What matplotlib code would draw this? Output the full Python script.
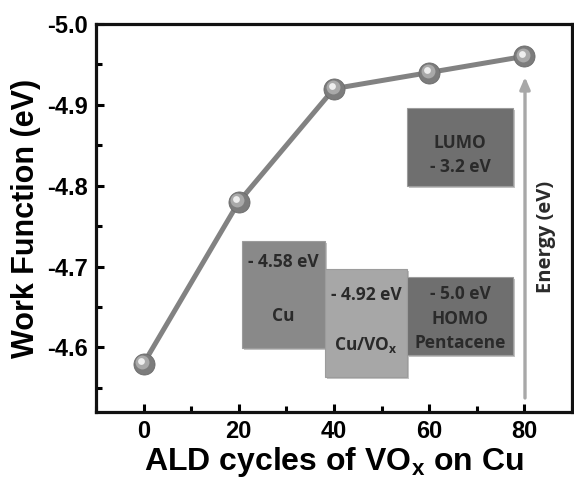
"""Work function of Cu vs. number of VOx ALD cycles, with energy-level inset."""

import matplotlib

matplotlib.use("Agg")
import matplotlib.pyplot as plt
from matplotlib.patches import Rectangle
from matplotlib.ticker import MultipleLocator
from matplotlib import transforms

# ---- data ----
ald_cycles = [0, 20, 40, 60, 80]
work_function = [-4.58, -4.78, -4.92, -4.94, -4.96]

x_ticks = [0, 20, 40, 60, 80]
y_ticks = [-4.6, -4.7, -4.8, -4.9, -5.0]

# inset energy-level boxes: text lines per box
box_labels = {
    "cu": ["- 4.58 eV", "Cu"],
    "cuvox": ["- 4.92 eV", r"Cu/VO$_\mathregular{x}$"],
    "homo": ["- 5.0 eV", "HOMO", "Pentacene"],
    "lumo": ["LUMO", "- 3.2 eV"],
}

plt.rcParams["font.family"] = ["Liberation Sans", "DejaVu Sans"]
plt.rcParams["mathtext.fontset"] = "custom"
plt.rcParams["mathtext.rm"] = "Liberation Sans:bold"
plt.rcParams["mathtext.bf"] = "Liberation Sans:bold"

W, H = 574, 483
fig = plt.figure(figsize=(W / 100, H / 100), dpi=100)
# axes frame in pixels: left 96, right 572, top 24, bottom 412
L, R, T, B = 96, 572, 24, 412
ax = fig.add_axes([L / W, 1 - B / H, (R - L) / W, (B - T) / H])


def px(x, y):
    """pixel position in the figure -> axes fraction."""
    return (x - L) / (R - L), (B - y) / (B - T)


ax.set_xlim(-10, 90)
ax.set_ylim(-4.52, -5.0)
ax.set_xticks(x_ticks)
ax.set_yticks(y_ticks)
ax.set_yticklabels([f"{v:.1f}" for v in y_ticks])
ax.xaxis.set_minor_locator(MultipleLocator(10))
ax.yaxis.set_minor_locator(MultipleLocator(0.05))
ax.tick_params(which="both", direction="in", width=2.2, top=False, right=False,
               labelsize=17, pad=6)
ax.tick_params(which="major", length=6)
ax.tick_params(which="minor", length=4)
for lab in ax.get_xticklabels() + ax.get_yticklabels():
    lab.set_fontweight("bold")
for sp in ax.spines.values():
    sp.set_linewidth(2.3)
    sp.set_color("#111111")

ax.set_xlabel(r"ALD cycles of VO$_\mathregular{x}$ on Cu", fontsize=23,
              fontweight="bold", labelpad=1)
ax.set_ylabel("Work Function (eV)", fontsize=22, fontweight="bold", labelpad=4)

# ---- main curve with shaded "sphere" markers ----
ax.plot(ald_cycles, work_function, color="#828282", lw=3.6, zorder=3)
ax.scatter(ald_cycles, work_function, s=230, color="#7c7c7c",
           edgecolor="#6a6a6a", lw=0.6, zorder=4)
shift1 = transforms.offset_copy(ax.transData, fig=fig, x=-1.0, y=1.0, units="points")
shift2 = transforms.offset_copy(ax.transData, fig=fig, x=-1.8, y=1.8, units="points")
ax.scatter(ald_cycles, work_function, s=100, color="#a9a9a9", lw=0,
           transform=shift1, zorder=5)
ax.scatter(ald_cycles, work_function, s=24, color="#eeeeee", lw=0,
           transform=shift2, zorder=6)

# ---- energy-level inset ----
boxes = [
    ("cu", 242, 241, 325, 348, "#898989", [262, 316]),
    ("cuvox", 325, 269, 407, 377, "#a7a7a7", [295, 345]),
    ("homo", 407, 277, 513, 355, "#6f6f6f", [294, 319, 343]),
    ("lumo", 407, 108, 513, 186, "#6f6f6f", [143, 167]),
]
inset_font = ["Open Sans", "DejaVu Sans"]
for key, x0, y0, x1, y1, fc, ys in boxes:
    ax0, ay1 = px(x0, y0)
    ax1, ay0 = px(x1, y1)
    shadow = Rectangle((ax0 + 0.004, ay0 - 0.005), ax1 - ax0, ay1 - ay0,
                       transform=ax.transAxes, fc="#c4c4c4", ec="none", zorder=1)
    ax.add_patch(shadow)
    rect = Rectangle((ax0, ay0), ax1 - ax0, ay1 - ay0, transform=ax.transAxes,
                     fc=fc, ec="#9c9c9c", lw=0.8, zorder=2)
    ax.add_patch(rect)
    cx = (x0 + x1) / 2
    for text, ty in zip(box_labels[key], ys):
        tx, tyy = px(cx, ty)
        ax.text(tx, tyy, text, transform=ax.transAxes, ha="center", va="center",
                fontsize=12.5, fontweight="bold", color="#2a2a2a",
                family=inset_font, zorder=3)

ax.annotate("", xy=px(525, 77), xytext=px(525, 398),
            xycoords="axes fraction", textcoords="axes fraction",
            arrowprops=dict(arrowstyle="-|>,head_length=0.7,head_width=0.3",
                            color="#a8a8a8", lw=2.4, shrinkA=0, shrinkB=0),
            zorder=2)
ex, ey = px(546, 237)
ax.text(ex, ey, "Energy (eV)", transform=ax.transAxes, rotation=90,
        ha="center", va="center", fontsize=14.5, fontweight="bold",
        color="#2a2a2a", family=inset_font)

fig.savefig("out.png", dpi=100)
